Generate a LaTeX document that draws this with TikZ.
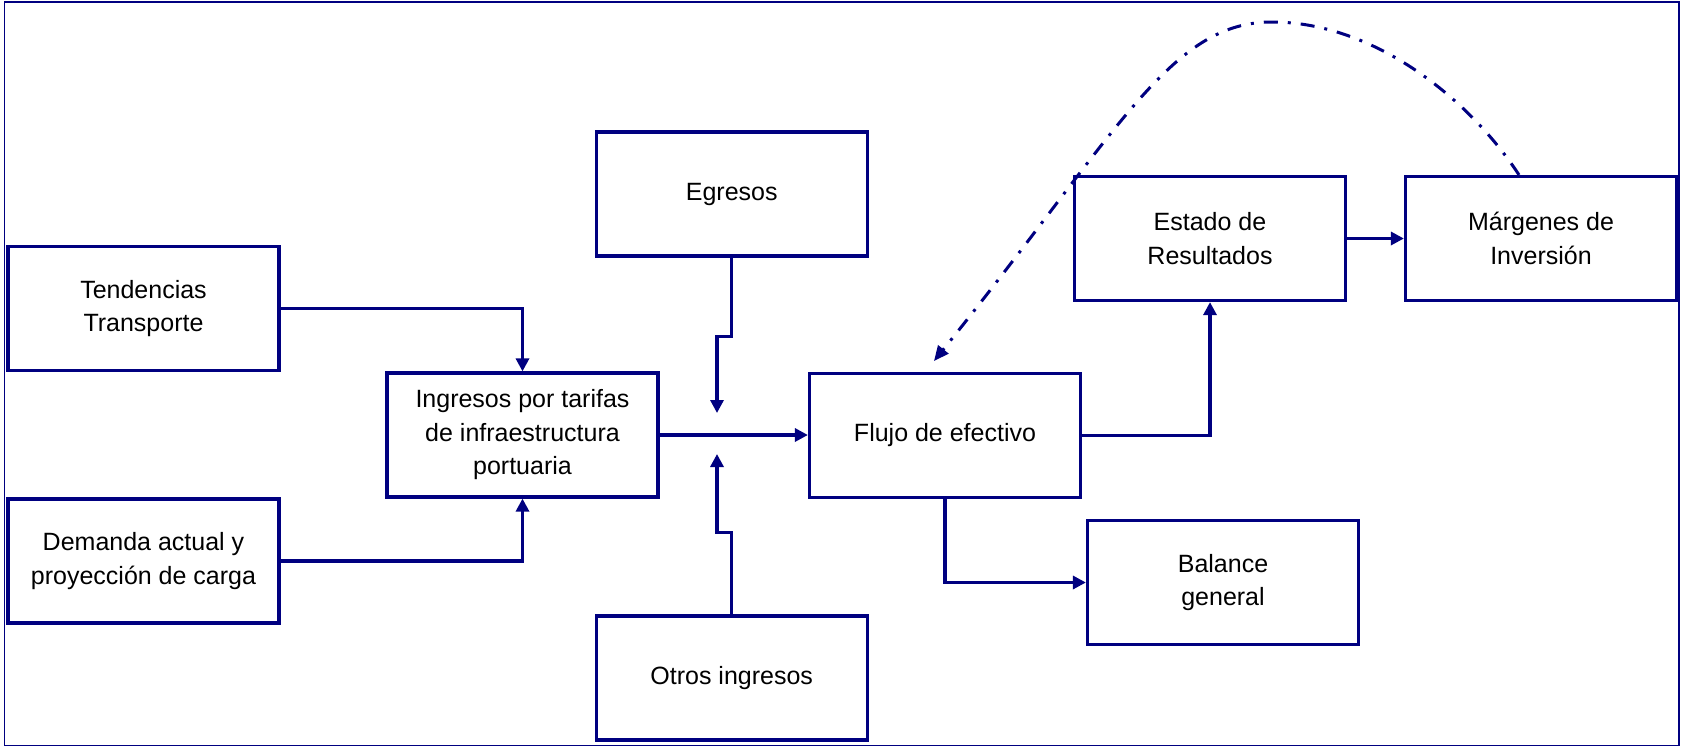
\documentclass[tikz,border=0pt]{standalone}
\usepackage{fontspec}
\setmainfont{Liberation Sans}
\usetikzlibrary{arrows.meta}
\definecolor{navy}{RGB}{0,0,128}
\begin{document}
\begin{tikzpicture}[x=1pt,y=-1pt,
  box/.style={draw=navy, line width=3.2pt, minimum width=271pt, minimum height=124pt,
    align=center, inner sep=0pt, font=\fontsize{25}{33.5}\selectfont},
  conn/.style={draw=navy, line width=3.2pt, -{Triangle[length=13pt,width=13pt]}},
  loopline/.style={draw=navy, line width=3pt, dash pattern=on 14pt off 10pt on 3pt off 10pt,
    -{Triangle[length=15pt,width=13pt]}}]
\useasboundingbox (0,0) rectangle (1681,747);
\draw[navy, line width=1.5pt] (4.5,2) rectangle (1679,745.5);

\node[box] (tend) at (143.5,308.5) {Tendencias\\Transporte};
\node[box] (dem) at (143.5,561) {Demanda actual y\\proyección de carga};
\node[box] (ing) at (522.5,435) {Ingresos por tarifas\\de infraestructura\\portuaria};
\node[box] (egr) at (731.7,194) {Egresos};
\node[box] (otr) at (731.7,678) {Otros ingresos};
\node[box] (flujo) at (945,435.5) {Flujo de efectivo};
\node[box] (est) at (1210,238.5) {Estado de\\Resultados};
\node[box] (mar) at (1541,238.5) {Márgenes de\\Inversión};
\node[box] (bal) at (1223,582.5) {Balance\\general};

\coordinate (egtip) at (717,413);
\coordinate (ottip) at (717,454);
\coordinate (looptip) at (934,361);

\draw[conn] (tend.east) -| (ing.north);
\draw[conn] (dem.east) -| (ing.south);
\draw[conn] (ing.east) -- (flujo.west |- ing.east);
\draw[conn] (egr.south) -- ++(0,79) -| (egtip);
\draw[conn] (otr.north) -- ++(0,-82) -| (ottip);
\draw[conn] (flujo.east) -| (est.south);
\draw[conn] (est.east) -- (mar.west);
\draw[conn] (flujo.south) |- (bal.west);
\draw[loopline] ([xshift=-22pt]mar.north) .. controls (1470,100) and (1375,22) .. (1272,22)
  .. controls (1170,22) and (1120,130) .. (looptip);
\end{tikzpicture}
\end{document}
